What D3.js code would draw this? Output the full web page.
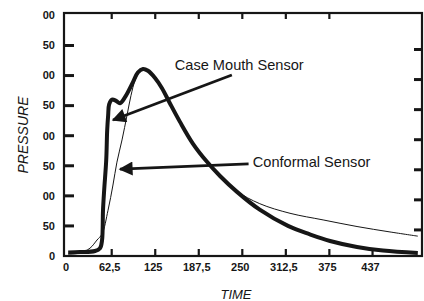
<!DOCTYPE html>
<html><head><meta charset="utf-8">
<script src="https://cdn.jsdelivr.net/npm/d3@7/dist/d3.min.js"></script>
<style>
html,body{margin:0;padding:0;background:#fff;}
svg{display:block;font-family:"Liberation Sans",Arial,sans-serif;}
</style></head><body>
<svg id="c" width="424" height="301"></svg>
<script>
// ---- data ----
const xTickValues = [0, 62.5, 125, 187.5, 250, 312.5, 375, 437];
const xTickLabels = ["0", "62,5", "125", "187,5", "250", "312,5", "375", "437"];
const yTickValues = [0, 50, 100, 150, 200, 250, 300, 350, 400];
const yTickLabels = ["0", "50", "00", "50", "00", "50", "00", "50", "00"];
const topTickValues = [62.5, 125, 187.5, 250, 312.5, 375];

const caseMouthTime = [0, 17, 38.5, 45.7, 48.6, 50, 51.7, 54.6, 56, 57.4, 58.8, 62.9, 68.7, 74.4, 81.6, 93, 100, 107.4, 114.6, 124.7, 134.7, 146, 160.5, 179, 199, 218, 242, 275, 315.6, 347, 376, 414.7, 452, 502];
const caseMouthPressure = [6, 6.6, 8.3, 13, 26, 76, 110, 159, 209, 234, 252, 260, 258, 254, 264, 289, 305, 311, 308, 296, 279, 254, 223, 187, 157, 133, 107, 77, 50, 36, 25, 15, 9, 5];

const conformalTime = [0, 17, 31.3, 41.4, 48.6, 57.2, 64.3, 70, 77.3, 84.5, 90.2, 96, 101.7, 107.4, 117.5, 134.7, 146, 160.5, 179, 199, 218, 242, 275, 318.5, 366, 414.7, 462, 502];
const conformalPressure = [3.3, 5, 13, 26.6, 36.5, 76, 118, 156, 193, 234, 267, 292, 305, 310, 306, 279, 254, 223, 188, 158, 134, 108, 87, 71, 60, 49, 40, 33];

const annotationLabels = ["Case Mouth Sensor", "Conformal Sensor"];
const annotationTextTime = [153, 265];
const annotationTextPressure = [309, 148];
const arrowFromTime = [235, 259];
const arrowFromPressure = [301, 153];
const arrowToTime = [64.4, 74.4];
const arrowToPressure = [226, 144.5];

// ---- layout ----
const L = 64, R = 422, T = 13, B = 256;
const svg = d3.select("#c");
const x = d3.scaleLinear().domain([-6, 508]).range([L, R]);
const y = d3.scaleLinear().domain([0, 404]).range([B, T]);
const ink = "#161616";

// frame
svg.append("rect").attr("x", L).attr("y", T).attr("width", R - L).attr("height", B - T)
  .attr("fill", "none").attr("stroke", ink).attr("stroke-width", 2.2);

// ticks
const inner = yTickValues.filter(v => v > 0 && v < 400);
svg.selectAll(".lt").data(inner).enter().append("line")
  .attr("x1", L).attr("x2", L + 10).attr("y1", d => y(d)).attr("y2", d => y(d))
  .attr("stroke", ink).attr("stroke-width", 3);
svg.selectAll(".rt").data(inner).enter().append("line")
  .attr("x1", R).attr("x2", R - 8).attr("y1", d => y(d) + 4).attr("y2", d => y(d) + 4)
  .attr("stroke", ink).attr("stroke-width", 3);
svg.selectAll(".bt").data(xTickValues.filter(v => v > 0)).enter().append("line")
  .attr("x1", d => x(d)).attr("x2", d => x(d)).attr("y1", B).attr("y2", B - 7)
  .attr("stroke", ink).attr("stroke-width", 2.2);
svg.selectAll(".tt").data(topTickValues).enter().append("line")
  .attr("x1", d => x(d)).attr("x2", d => x(d)).attr("y1", T).attr("y2", T + 6)
  .attr("stroke", ink).attr("stroke-width", 2.2);

// tick labels
svg.selectAll(".yl").data(yTickValues).enter().append("text")
  .attr("x", 55).attr("y", d => y(d)).attr("dy", "0.35em")
  .attr("text-anchor", "end").attr("font-size", 11).attr("font-weight", "bold")
  .attr("fill", ink).text((d, i) => yTickLabels[i]);
svg.selectAll(".xl").data(xTickValues).enter().append("text")
  .attr("x", d => x(d) - 2).attr("y", 271)
  .attr("text-anchor", "middle").attr("font-size", 11).attr("font-weight", "bold")
  .attr("fill", ink).text((d, i) => xTickLabels[i]);

// axis titles
svg.append("text").attr("x", 236).attr("y", 299).attr("text-anchor", "middle")
  .attr("font-size", 13).attr("font-style", "italic").attr("fill", ink).text("TIME");
svg.append("text").attr("transform", "translate(28,135) rotate(-90)").attr("text-anchor", "middle")
  .attr("font-size", 14).attr("font-style", "italic").attr("fill", ink).text("PRESSURE");

// curves
const line = d3.line().x(d => x(d[0])).y(d => y(d[1])).curve(d3.curveCatmullRom.alpha(0.5));
const clip = svg.append("clipPath").attr("id", "clp").append("rect")
  .attr("x", L).attr("y", T).attr("width", R - L).attr("height", B - T);
const g = svg.append("g").attr("clip-path", "url(#clp)");
g.append("path").datum(conformalTime.map((t, i) => [t, conformalPressure[i]]))
  .attr("d", line).attr("fill", "none").attr("stroke", ink).attr("stroke-width", 1);
g.append("path").datum(caseMouthTime.map((t, i) => [t, caseMouthPressure[i]]))
  .attr("d", line).attr("fill", "none").attr("stroke", ink).attr("stroke-width", 4)
  .attr("stroke-linejoin", "round");

// annotations
svg.append("defs").append("marker").attr("id", "ah").attr("viewBox", "0 0 10 10")
  .attr("refX", 9).attr("refY", 5).attr("markerWidth", 7).attr("markerHeight", 5)
  .attr("markerUnits", "strokeWidth").attr("orient", "auto")
  .append("path").attr("d", "M0,0 L10,5 L0,10 Z").attr("fill", ink);
annotationLabels.forEach((lab, i) => {
  svg.append("line")
    .attr("x1", x(arrowFromTime[i])).attr("y1", y(arrowFromPressure[i]))
    .attr("x2", x(arrowToTime[i])).attr("y2", y(arrowToPressure[i]))
    .attr("stroke", ink).attr("stroke-width", 2.8).attr("marker-end", "url(#ah)");
  svg.append("text").attr("x", x(annotationTextTime[i])).attr("y", y(annotationTextPressure[i]))
    .attr("font-size", 14.6).attr("fill", ink).text(lab);
});
</script>
</body></html>
